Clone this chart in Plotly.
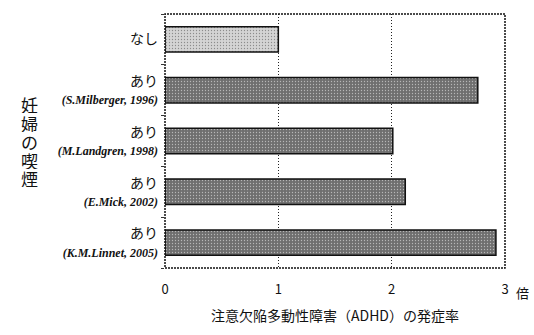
import plotly.graph_objects as go

groups = ["なし", "あり", "あり", "あり", "あり"]
studies = ["", "(S.Milberger, 1996)", "(M.Landgren, 1998)", "(E.Mick, 2002)", "(K.M.Linnet, 2005)"]
rates = [1.0, 2.76, 2.01, 2.12, 2.92]
bar_colors = ["#d4d4d4", "#6f6f6f", "#6f6f6f", "#6f6f6f", "#6f6f6f"]
x_ticks = [0, 1, 2, 3]
x_ticktext = ["0", "1", "2", "3"]
x_unit = "倍"
y_title_chars = ["妊", "婦", "の", "喫", "煙"]

CJK = "Noto Sans CJK JP"

ticktext = []
for g, s in zip(groups, studies):
    if s:
        ticktext.append(
            f"{g}<br><span style='font-family:Liberation Serif;font-size:12px;font-style:italic;font-weight:bold'>{s}</span>"
        )
    else:
        ticktext.append(g)

ypos = list(range(len(groups)))

fig = go.Figure(
    go.Bar(
        x=rates,
        y=ypos,
        orientation="h",
        marker=dict(color=bar_colors, line=dict(color="#111111", width=1.5),
                    pattern=dict(shape=".", fgcolor="#ffffff", size=3, solidity=0.15)),
        width=0.5,
        hoverinfo="skip",
    )
)

annotations = [
    dict(text=x_unit, xref="paper", yref="paper", x=1, y=0, xanchor="left", yanchor="top",
         xshift=9, yshift=-13, showarrow=False, font=dict(family=CJK, size=13, color="#111111")),
]
n = len(y_title_chars)
for i, ch in enumerate(y_title_chars):
    annotations.append(
        dict(text=ch, xref="paper", yref="paper", x=0, y=0.5, xanchor="center", yanchor="middle",
             xshift=-136, yshift=(n / 2 - 0.5 - i) * 18.5, showarrow=False, height=18, borderpad=0,
             font=dict(family=CJK, size=17, color="#111111"))
    )

fig.update_layout(
    width=534,
    height=335,
    margin=dict(l=165, r=29, t=14, b=67),
    paper_bgcolor="white",
    plot_bgcolor="white",
    showlegend=False,
    font=dict(family=CJK, color="#111111"),
    xaxis=dict(
        range=[0, 3],
        tickvals=x_ticks,
        ticktext=x_ticktext,
        showgrid=True,
        gridcolor="#222222",
        griddash="1px,2px",
        gridwidth=1,
        zeroline=False,
        showline=False,
        ticks="",
        tickfont=dict(family=CJK, size=13, color="#111111"),
        title=dict(text="注意欠陥多動性障害（ADHD）の発症率", font=dict(family=CJK, size=14, color="#111111"), standoff=14),
        ticklabelstandoff=12,
    ),
    yaxis=dict(
        range=[4.5, -0.5],
        tickvals=ypos,
        ticktext=ticktext,
        showgrid=False,
        zeroline=False,
        showline=False,
        ticks="",
        tickfont=dict(family=CJK, size=14, color="#111111"),
        ticklabelstandoff=6,
        minor=dict(ticks="outside", ticklen=3, tickcolor="#333333", tick0=0.5, dtick=1, showgrid=False),
    ),
    shapes=[
        dict(type="rect", xref="paper", yref="paper", x0=0, x1=1, y0=0, y1=1,
             line=dict(color="#111111", width=1.5, dash="2px,1px"), layer="above"),
    ],
    annotations=annotations,
)

fig.write_html(
    "out.html",
    config={"displayModeBar": False},
    post_script="document.body.style.margin='0';document.body.style.overflow='hidden';",
)
